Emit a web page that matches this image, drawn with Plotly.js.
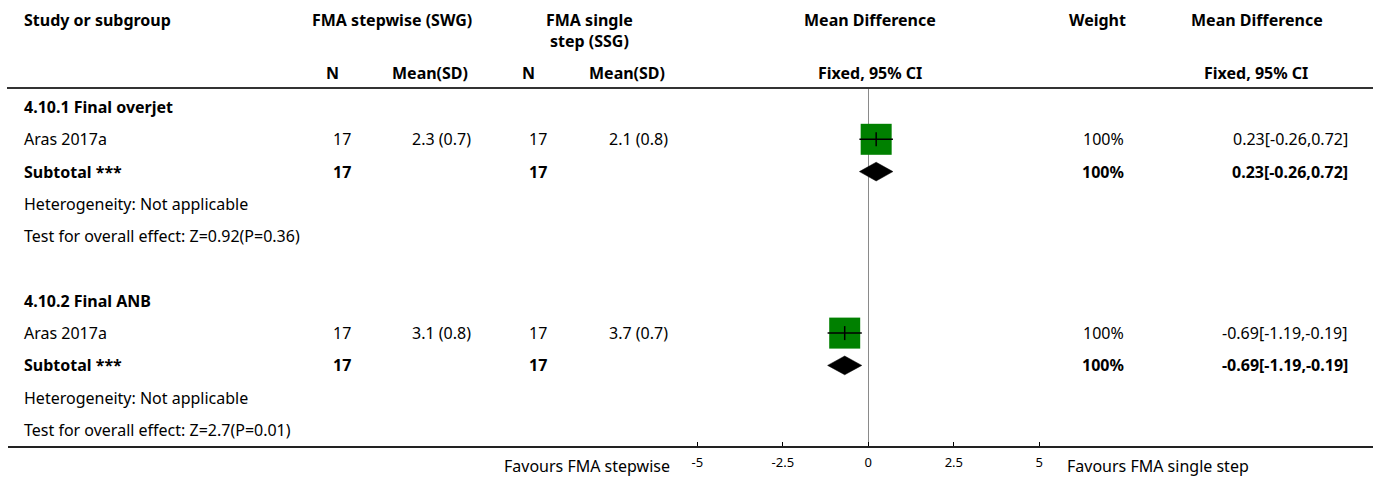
<!DOCTYPE html>
<html>
<head>
<meta charset="utf-8">
<script src="https://cdn.plot.ly/plotly-3.0.1.min.js"></script>
<style>
html,body{margin:0;padding:0;background:#fff;}
#chart{width:1373px;height:479px;}
</style>
</head>
<body>
<div id="chart"></div>
<script>
// ---------------- data ----------------
const groupTitles = ['4.10.1 Final overjet', '4.10.2 Final ANB'];
const studyNames = ['Aras 2017a', 'Aras 2017a'];
const n1 = [17, 17];
const mean1 = [2.3, 3.1];
const sd1 = [0.7, 0.8];
const n2 = [17, 17];
const mean2 = [2.1, 3.7];
const sd2 = [0.8, 0.7];
const md = [0.23, -0.69];
const ciLo = [-0.26, -1.19];
const ciHi = [0.72, -0.19];
const weights = [100, 100];
const subMd = [0.23, -0.69];
const subLo = [-0.26, -1.19];
const subHi = [0.72, -0.19];
const subWeights = [100, 100];
const heterogeneity = ['Not applicable', 'Not applicable'];
const zStat = [0.92, 2.7];
const pVal = [0.36, 0.01];
const tickVals = [-5, -2.5, 0, 2.5, 5];
const tickText = ['-5', '-2.5', '0', '2.5', '5'];
const favoursLeft = 'Favours FMA stepwise';
const favoursRight = 'Favours FMA single step';

// ---------------- layout helpers ----------------
const W = 1373, H = 479;
const TOP = 88, BOT = 447;
const ROW0 = 107, ROWH = 32.3;
const ZERO_PX = 868.3, PX_PER_UNIT = 34.2;
const FONT = 'Noto Sans, sans-serif';
const TXT = '#000';
const px = x => x / W;
const py = y => (BOT - y) / (BOT - TOP);
const yTopRow = (TOP - ROW0) / ROWH;
const yBotRow = (BOT - ROW0) / ROWH;
const xMin = -ZERO_PX / PX_PER_UNIT;
const xMax = (W - ZERO_PX) / PX_PER_UNIT;

const annotations = [];
function txt(x, y, text, align, yref, opts) {
  opts = opts || {};
  annotations.push({
    x: px(x), xref: 'paper',
    y: yref === 'paper' ? py(y) : y, yref: yref,
    text: text, showarrow: false,
    xanchor: align, yanchor: 'middle', align: align === 'right' ? 'right' : (align === 'left' ? 'left' : 'center'),
    font: {family: FONT, size: opts.size || 16, color: TXT}
  });
}
const b = s => '<b>' + s + '</b>';

// headers
txt(22, 20, b('Study or subgroup'), 'left', 'paper');
txt(392, 20, b('FMA stepwise (SWG)'), 'center', 'paper');
txt(589, 30, b('FMA single<br>step (SSG)'), 'center', 'paper');
txt(870, 20, b('Mean Difference'), 'center', 'paper');
txt(1097, 20, b('Weight'), 'center', 'paper');
txt(1257, 20, b('Mean Difference'), 'center', 'paper');
txt(332, 73, b('N'), 'center', 'paper');
txt(430, 73, b('Mean(SD)'), 'center', 'paper');
txt(528, 73, b('N'), 'center', 'paper');
txt(627, 73, b('Mean(SD)'), 'center', 'paper');
txt(870, 73, b('Fixed, 95% CI'), 'center', 'paper');
txt(1256, 73, b('Fixed, 95% CI'), 'center', 'paper');

// rows
const studyRows = [], subRows = [];
groupTitles.forEach((g, k) => {
  const base = k * 6;
  studyRows.push(base + 1);
  subRows.push(base + 2);
  txt(22, base, b(g), 'left', 'y');
  txt(22, base + 1, studyNames[k], 'left', 'y');
  txt(353, base + 1, String(n1[k]), 'right', 'y');
  txt(473, base + 1, mean1[k] + ' (' + sd1[k] + ')', 'right', 'y');
  txt(549, base + 1, String(n2[k]), 'right', 'y');
  txt(670, base + 1, mean2[k] + ' (' + sd2[k] + ')', 'right', 'y');
  txt(1126, base + 1, weights[k] + '%', 'right', 'y');
  txt(1350, base + 1, md[k].toFixed(2) + '[' + ciLo[k].toFixed(2) + ',' + ciHi[k].toFixed(2) + ']', 'right', 'y');
  txt(22, base + 2, b('Subtotal ***'), 'left', 'y');
  txt(353, base + 2, b(String(n1[k])), 'right', 'y');
  txt(549, base + 2, b(String(n2[k])), 'right', 'y');
  txt(1126, base + 2, b(subWeights[k] + '%'), 'right', 'y');
  txt(1350, base + 2, b(subMd[k].toFixed(2) + '[' + subLo[k].toFixed(2) + ',' + subHi[k].toFixed(2) + ']'), 'right', 'y');
  txt(22, base + 3, 'Heterogeneity: ' + heterogeneity[k], 'left', 'y');
  txt(22, base + 4, 'Test for overall effect: Z=' + zStat[k] + '(P=' + pVal[k] + ')', 'left', 'y');
});
txt(672, 466, favoursLeft, 'right', 'paper');
txt(1065, 466, favoursRight, 'left', 'paper');

// ---------------- traces ----------------
const squares = {
  type: 'scatter', mode: 'markers', x: md, y: studyRows, opacity: 1,
  marker: {symbol: 'square', size: weights.map(w => 31 * w / 100), color: '#008000', opacity: 1, line: {width: 0}},
  hoverinfo: 'skip', showlegend: false, cliponaxis: false
};
const ciX = [], ciY = [];
md.forEach((m, i) => { ciX.push(ciLo[i], ciHi[i], null); ciY.push(studyRows[i], studyRows[i], null); });
const ciLines = {
  type: 'scatter', mode: 'lines', x: ciX, y: ciY,
  line: {color: '#000', width: 1.5}, hoverinfo: 'skip', showlegend: false
};
const meanTicks = {
  type: 'scatter', mode: 'markers', x: md, y: studyRows,
  marker: {symbol: 'line-ns', size: 10, opacity: 1, line: {color: '#000', width: 1.5}},
  hoverinfo: 'skip', showlegend: false
};
const dX = [], dY = [];
const HALF = 0.29;
subMd.forEach((m, i) => {
  const r = subRows[i];
  dX.push(subLo[i], m, subHi[i], m, subLo[i], null);
  dY.push(r, r - HALF, r, r + HALF, r, null);
});
const diamonds = {
  type: 'scatter', mode: 'lines', x: dX, y: dY, fill: 'toself', fillcolor: '#000',
  line: {color: '#000', width: 0.5}, hoverinfo: 'skip', showlegend: false
};

const layout = {
  width: W, height: H,
  margin: {l: 0, r: 0, t: TOP, b: H - BOT, pad: 0},
  paper_bgcolor: '#fff', plot_bgcolor: '#fff',
  showlegend: false,
  xaxis: {
    range: [xMin, xMax], showgrid: false, showline: false,
    zeroline: true, zerolinecolor: '#8a8a8a', zerolinewidth: 1,
    tickmode: 'array', tickvals: tickVals, ticktext: tickText,
    ticks: 'inside', ticklen: 5, tickwidth: 1, tickcolor: '#000',
    ticklabelstandoff: 6,
    tickfont: {family: FONT, size: 13, color: TXT}, fixedrange: true
  },
  yaxis: {
    range: [yBotRow, yTopRow], visible: false, showgrid: false, zeroline: false, fixedrange: true
  },
  shapes: [
    {type: 'line', xref: 'paper', yref: 'paper', x0: px(7), x1: 1, y0: 1, y1: 1, line: {color: '#333', width: 2}},
    {type: 'line', xref: 'paper', yref: 'paper', x0: px(8), x1: 1, y0: 0, y1: 0, line: {color: '#222', width: 2}}
  ],
  annotations: annotations
};

Plotly.newPlot('chart', [squares, ciLines, meanTicks, diamonds], layout, {displayModeBar: false, staticPlot: true});
</script>
</body>
</html>
